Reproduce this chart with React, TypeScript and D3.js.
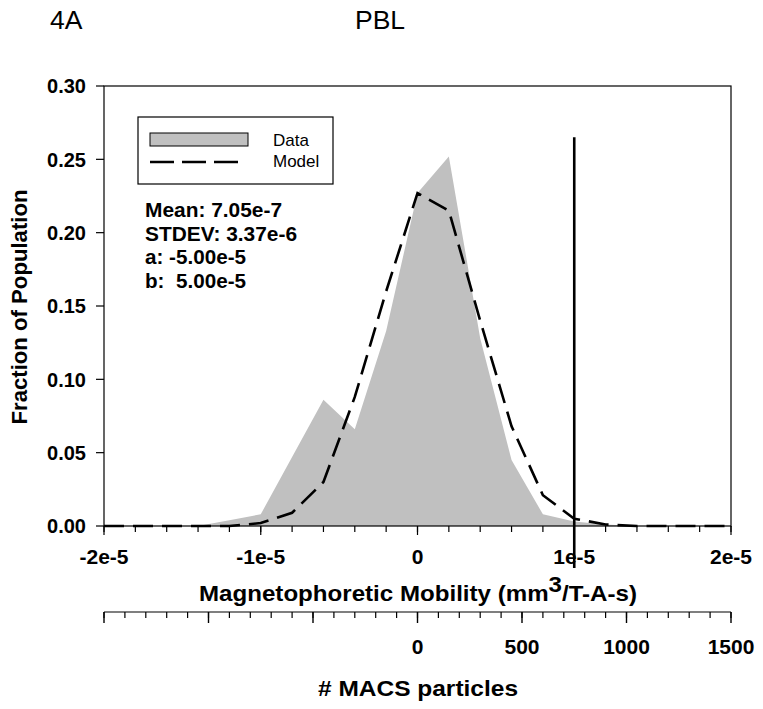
import React from "react";
import * as d3 from "d3";

const mobility = [
  -2e-5, -1.8e-5, -1.6e-5, -1.4e-5, -1.2e-5, -1e-5, -8e-6, -6e-6, -4e-6, -2e-6, 0,
  2e-6, 4e-6, 6e-6, 8e-6, 1e-5, 1.2e-5, 1.4e-5, 1.6e-5, 1.8e-5, 2e-5,
];
const dataFraction = [
  0, 0, 0, 0, 0.004, 0.008, 0.047, 0.086, 0.066, 0.133, 0.227,
  0.252, 0.128, 0.045, 0.008, 0.003, 0.001, 0, 0, 0, 0,
];
const modelFraction = [
  0, 0, 0, 0, 0, 0.002, 0.009, 0.03, 0.088, 0.16, 0.227,
  0.215, 0.14, 0.068, 0.021, 0.005, 0.001, 0, 0, 0, 0,
];
const yTicks = [0, 0.05, 0.1, 0.15, 0.2, 0.25, 0.3];
const xMajorTicks = [-2e-5, -1e-5, 0, 1e-5, 2e-5];
const xTickLabels = ["-2e-5", "-1e-5", "0", "1e-5", "2e-5"];
const particleMajorTicks = [-1500, -1000, -500, 0, 500, 1000, 1500];
const particleTickLabels = ["", "", "", "0", "500", "1000", "1500"];
const thresholdX = 1e-5;
const thresholdTop = 0.265;
const statsLines = ["Mean: 7.05e-7", "STDEV: 3.37e-6", "a: -5.00e-5", "b:  5.00e-5"];
const statsWidths = [137, 152, 101, 101];
const legendLabels = ["Data", "Model"];

const FONT = "'Liberation Sans', Arial, Helvetica, sans-serif";

export default function App() {
  const left = 104;
  const right = 731;
  const top = 86;
  const bottom = 526;
  const x = d3.scaleLinear().domain([-2e-5, 2e-5]).range([left, right]);
  const y = d3.scaleLinear().domain([0, 0.3]).range([bottom, top]);
  const p = d3.scaleLinear().domain([-1500, 1500]).range([left, right]);
  const axis2Y = 612;

  const area = d3
    .area<number>()
    .x((_, i) => x(mobility[i]))
    .y0(y(0))
    .y1((d) => y(d));
  const line = d3
    .line<number>()
    .x((_, i) => x(mobility[i]))
    .y((d) => y(d));

  const xMinor = x.ticks(20);
  const pMinor = p.ticks(30);

  return (
    <svg
      width={763}
      height={709}
      style={{ position: "absolute", left: 0, top: 0, background: "#fff" }}
      fontFamily={FONT}
    >
      <rect x={0} y={0} width={763} height={709} fill="#fff" />
      {/* titles */}
      <text x={50} y={29} fontSize={26.5}>4A</text>
      <text x={355} y={29} fontSize={26.5}>PBL</text>

      {/* data area */}
      <path d={area(dataFraction) || ""} fill="#c0c0c0" stroke="none" />
      {/* frame */}
      <rect x={left} y={top} width={right - left} height={bottom - top} fill="none" stroke="#000" strokeWidth={1.2} />
      {/* model */}
      <path d={line(modelFraction) || ""} fill="none" stroke="#000" strokeWidth={2.6} strokeDasharray="20,9" />
      {/* threshold line */}
      <line x1={x(thresholdX)} x2={x(thresholdX)} y1={y(thresholdTop)} y2={bottom + 42} stroke="#000" strokeWidth={2.6} />

      {/* y axis */}
      {yTicks.map((t) => (
        <g key={"y" + t}>
          <line x1={left - 8} x2={left} y1={y(t)} y2={y(t)} stroke="#000" strokeWidth={1.2} />
          <text x={86} y={y(t)} dy="0.36em" textAnchor="end" fontSize={20} fontWeight="bold">
            {d3.format(".2f")(t)}
          </text>
        </g>
      ))}
      <text
        transform={`translate(27,${(top + bottom) / 2 + 1}) rotate(-90)`}
        textAnchor="middle"
        fontSize={22.5}
        fontWeight="bold"
        textLength={235}
        lengthAdjust="spacingAndGlyphs"
      >
        Fraction of Population
      </text>

      {/* x axis */}
      {xMinor.map((t) => (
        <line key={"xm" + t} x1={x(t)} x2={x(t)} y1={bottom} y2={bottom + 6} stroke="#000" strokeWidth={1.2} />
      ))}
      {xMajorTicks.map((t, i) => (
        <g key={"x" + t}>
          <line x1={x(t)} x2={x(t)} y1={bottom} y2={bottom + 9} stroke="#000" strokeWidth={1.2} />
          <text x={x(t)} y={564} textAnchor="middle" fontSize={21} fontWeight="bold">
            {xTickLabels[i]}
          </text>
        </g>
      ))}
      <text
        x={199}
        y={601}
        fontSize={22.5}
        fontWeight="bold"
        textLength={438}
        lengthAdjust="spacingAndGlyphs"
      >
        Magnetophoretic Mobility (mm
        <tspan dy={-9}>3</tspan>
        <tspan dy={9}>/T-A-s)</tspan>
      </text>

      {/* particles axis */}
      <line x1={left} x2={right} y1={axis2Y} y2={axis2Y} stroke="#000" strokeWidth={1.2} />
      {pMinor.map((t) => (
        <line key={"pm" + t} x1={p(t)} x2={p(t)} y1={axis2Y} y2={axis2Y + 6} stroke="#000" strokeWidth={1.2} />
      ))}
      {particleMajorTicks.map((t, i) => (
        <g key={"p" + t}>
          <line x1={p(t)} x2={p(t)} y1={axis2Y} y2={axis2Y + 11} stroke="#000" strokeWidth={1.4} />
          <text x={p(t)} y={654} textAnchor="middle" fontSize={21} fontWeight="bold">
            {particleTickLabels[i]}
          </text>
        </g>
      ))}
      <text
        x={318}
        y={696}
        fontSize={22.5}
        fontWeight="bold"
        textLength={200}
        lengthAdjust="spacingAndGlyphs"
      >
        # MACS particles
      </text>

      {/* legend */}
      <rect x={138} y={117} width={195} height={67} fill="#fff" stroke="#000" strokeWidth={1.2} />
      <rect x={150} y={133} width={98} height={13} fill="#c0c0c0" stroke="#000" strokeWidth={1} />
      <line x1={150} x2={238} y1={162} y2={162} stroke="#000" strokeWidth={2.6} strokeDasharray="24,8" />
      <text x={273} y={146} fontSize={17}>{legendLabels[0]}</text>
      <text x={273} y={167} fontSize={17}>{legendLabels[1]}</text>

      {/* stats */}
      {statsLines.map((s, i) => (
        <text
          key={s}
          x={145}
          y={217 + i * 23.5}
          fontSize={21}
          fontWeight="bold"
          textLength={statsWidths[i]}
          lengthAdjust="spacingAndGlyphs"
          style={{ whiteSpace: "pre" }}
        >
          {s}
        </text>
      ))}
    </svg>
  );
}
